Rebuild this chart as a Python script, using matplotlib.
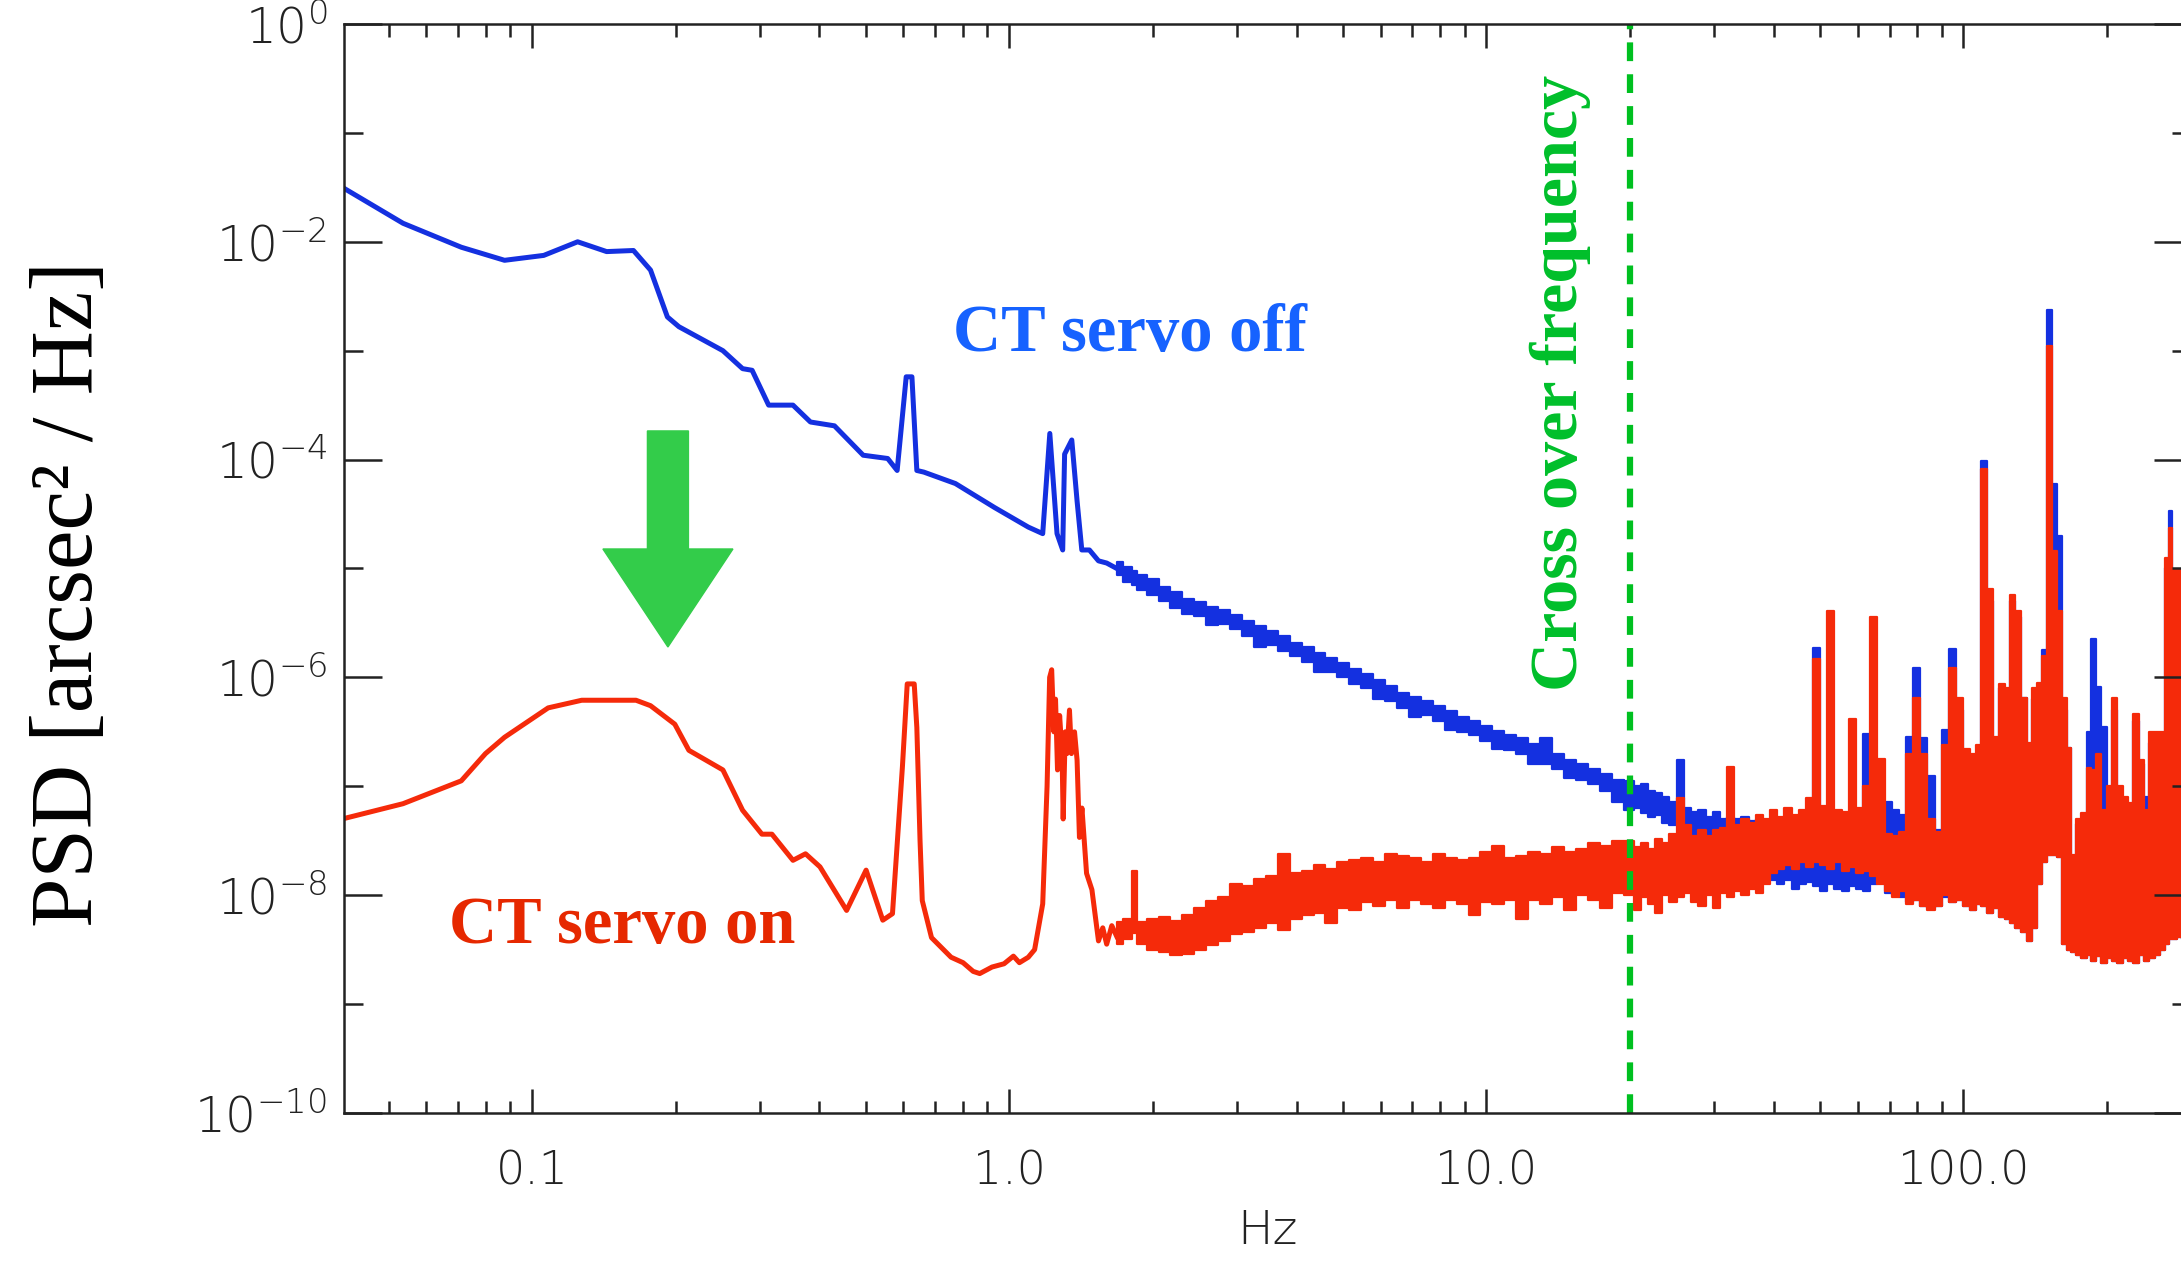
outfile = "out.png"
import numpy
import matplotlib
matplotlib.use("Agg")
import matplotlib.pyplot
from matplotlib.ticker import FixedLocator, FixedFormatter, NullFormatter, LogLocator
from matplotlib.patches import FancyArrow

matplotlib.pyplot.rcParams["font.family"] = ["DejaVu Sans"]
matplotlib.pyplot.rcParams["mathtext.default"] = "regular"

# all PSD values are log10(arcsec^2/Hz)

# CT servo off, low-frequency part (single clean trace)
off_line_f = [0.040, 0.0536, 0.0710, 0.0875, 0.1057, 0.1245, 0.1432, 0.163, 0.177, 0.192,
              0.203, 0.251, 0.276, 0.289, 0.313, 0.352, 0.383, 0.430, 0.494, 0.556,
              0.582, 0.608, 0.625, 0.640, 0.662, 0.771, 0.931, 1.096, 1.175, 1.216,
              1.259, 1.294, 1.306, 1.352, 1.387, 1.419, 1.472, 1.538, 1.60, 1.68]
off_line_p = [-1.50, -1.83, -2.05, -2.17, -2.125, -2.00, -2.09, -2.08, -2.26, -2.69,
              -2.78, -3.00, -3.165, -3.18, -3.50, -3.50, -3.655, -3.69, -3.96, -3.99,
              -4.10, -3.24, -3.24, -4.10, -4.115, -4.22, -4.44, -4.62, -4.68, -3.76,
              -4.68, -4.83, -3.95, -3.82, -4.38, -4.83, -4.83, -4.93, -4.95, -5.00]

# CT servo on, low-frequency part
on_line_f = [0.040, 0.0536, 0.0710, 0.0798, 0.0875, 0.108, 0.127, 0.150, 0.165, 0.177,
             0.199, 0.213, 0.251, 0.276, 0.303, 0.318, 0.352, 0.374, 0.401, 0.456,
             0.501, 0.543, 0.569, 0.597, 0.611, 0.632, 0.640, 0.650, 0.657, 0.687,
             0.755, 0.800, 0.840, 0.867, 0.920, 0.975, 1.02, 1.05, 1.096, 1.13,
             1.175, 1.20, 1.215, 1.227, 1.24, 1.25, 1.262, 1.275, 1.29, 1.297,
             1.31, 1.321, 1.337, 1.35, 1.37, 1.387, 1.403, 1.42, 1.452, 1.49,
             1.538, 1.57, 1.60, 1.64, 1.68]
on_line_p = [-7.30, -7.16, -6.95, -6.70, -6.55, -6.28, -6.21, -6.21, -6.21, -6.26,
             -6.43, -6.67, -6.85, -7.22, -7.44, -7.44, -7.68, -7.62, -7.74, -8.14,
             -7.77, -8.23, -8.17, -6.82, -6.06, -6.06, -6.46, -7.50, -8.05, -8.39,
             -8.57, -8.62, -8.70, -8.72, -8.66, -8.63, -8.56, -8.62, -8.57, -8.50,
             -8.08, -7.00, -6.00, -5.93, -6.50, -6.20, -6.85, -6.35, -6.70, -7.30,
             -6.50, -6.70, -6.30, -6.70, -6.50, -6.76, -7.47, -7.20, -7.80, -7.95,
             -8.42, -8.30, -8.45, -8.28, -8.38]

# dense part 1.7 - 19 Hz: min / max of each frequency bin
mid_f = [1.68, 1.78, 1.83, 1.88, 2.00, 2.11, 2.24, 2.37, 2.51, 2.66,
         2.82, 2.99, 3.16, 3.35, 3.55, 3.76, 3.98, 4.22, 4.47, 4.73,
         5.01, 5.31, 5.62, 5.96, 6.31, 6.68, 7.08, 7.50, 7.94, 8.41,
         8.91, 9.44, 10.0, 10.6, 11.2, 11.9, 12.6, 13.3, 14.1, 15.0,
         15.8, 16.8, 17.8, 18.8]
mid_on_lo = [-8.45, -8.40, -8.35, -8.45, -8.50, -8.52, -8.55, -8.54, -8.50, -8.46,
             -8.42, -8.36, -8.34, -8.30, -8.26, -8.32, -8.22, -8.18, -8.16, -8.26,
             -8.12, -8.14, -8.06, -8.10, -8.04, -8.12, -8.04, -8.08, -8.12, -8.04,
             -8.08, -8.18, -8.06, -8.08, -8.04, -8.22, -8.04, -8.08, -8.02, -8.14,
             -8.00, -8.04, -8.12, -7.98]
mid_on_hi = [-8.25, -8.22, -7.78, -8.25, -8.22, -8.20, -8.24, -8.18, -8.12, -8.05,
             -8.02, -7.90, -7.92, -7.85, -7.82, -7.62, -7.80, -7.78, -7.72, -7.76,
             -7.70, -7.68, -7.66, -7.70, -7.62, -7.64, -7.66, -7.70, -7.62, -7.66,
             -7.68, -7.66, -7.60, -7.55, -7.66, -7.64, -7.60, -7.62, -7.56, -7.60,
             -7.58, -7.52, -7.55, -7.50]
mid_off_lo = [-5.06, -5.12, -5.15, -5.20, -5.24, -5.30, -5.36, -5.42, -5.44, -5.52,
              -5.51, -5.56, -5.62, -5.72, -5.70, -5.76, -5.80, -5.86, -5.95, -5.95,
              -6.00, -6.06, -6.10, -6.20, -6.22, -6.28, -6.36, -6.35, -6.40, -6.48,
              -6.50, -6.53, -6.58, -6.66, -6.67, -6.70, -6.80, -6.80, -6.84, -6.92,
              -6.94, -6.98, -7.04, -7.14]
mid_off_hi = [-4.94, -4.99, -5.02, -5.06, -5.10, -5.17, -5.22, -5.28, -5.31, -5.35,
              -5.38, -5.43, -5.48, -5.53, -5.57, -5.62, -5.68, -5.72, -5.78, -5.82,
              -5.87, -5.92, -5.97, -6.02, -6.08, -6.14, -6.18, -6.22, -6.26, -6.31,
              -6.36, -6.40, -6.45, -6.49, -6.53, -6.56, -6.61, -6.56, -6.70, -6.76,
              -6.80, -6.84, -6.89, -6.94]

# dense part 20 - 300 Hz
high_f = [20.0, 20.7, 21.4, 22.2, 23.0, 23.8, 24.6, 25.5, 26.4, 27.3,
          28.3, 29.3, 30.3, 31.4, 32.5, 33.6, 34.8, 36.1, 37.3, 38.6,
          40.0, 41.4, 42.9, 44.4, 45.9, 47.5, 49.2, 51.0, 52.7, 54.6,
          56.5, 58.5, 60.6, 62.7, 64.9, 67.2, 69.5, 72.0, 74.5, 77.1,
          79.8, 82.6, 85.5, 88.5, 91.6, 94.8, 98.2, 101.6, 105.2, 107.5,
          110.6, 113.6, 116.6, 120.7, 124.0, 126.8, 130.0, 133.8, 137.5, 141.0,
          144.6, 148.0, 151.5, 155.4, 159.5, 163.0, 166.5, 170.3, 174.5, 179.0,
          183.5, 187.0, 192.0, 197.0, 202.0, 207.5, 213.0, 218.5, 224.2, 230.0,
          236.0, 242.0, 248.6, 255.0, 261.0, 267.0, 271.5, 277.0, 284.0, 291.0,
          298.0, 305.0]
high_on_lo = [-8.00, -8.14, -8.02, -8.08, -8.16, -8.00, -8.06, -8.02, -7.98, -8.06,
              -8.10, -8.00, -8.12, -7.98, -8.02, -7.96, -8.00, -7.94, -7.98, -7.90,
              -7.80, -7.76, -7.72, -7.76, -7.70, -7.74, -7.70, -7.72, -7.76, -7.70,
              -7.78, -7.74, -7.80, -7.78, -7.82, -7.90, -7.96, -8.02, -7.96, -8.08,
              -8.04, -8.10, -8.14, -8.10, -8.00, -8.06, -8.04, -8.10, -8.14, -8.08,
              -8.10, -8.16, -8.12, -8.20, -8.22, -8.26, -8.30, -8.34, -8.42, -8.30,
              -7.90, -7.70, -7.63, -7.63, -7.65, -8.45, -8.50, -8.52, -8.55, -8.58,
              -8.55, -8.60, -8.56, -8.62, -8.58, -8.60, -8.62, -8.58, -8.60, -8.62,
              -8.55, -8.60, -8.58, -8.55, -8.50, -8.45, -8.40, -8.40, -8.38, -8.40,
              -8.35, -8.35]
high_on_hi = [-7.50, -7.56, -7.52, -7.58, -7.48, -7.52, -7.44, -7.11, -7.36, -7.46,
              -7.40, -7.46, -7.40, -7.38, -6.82, -7.36, -7.30, -7.34, -7.26, -7.30,
              -7.22, -7.28, -7.20, -7.26, -7.22, -7.11, -5.83, -7.18, -5.39, -7.22,
              -7.24, -6.38, -7.20, -7.00, -5.45, -6.75, -7.44, -7.46, -7.42, -6.70,
              -6.19, -6.70, -7.30, -7.42, -6.62, -5.91, -6.19, -6.66, -6.70, -6.62,
              -4.09, -5.19, -6.55, -6.06, -6.10, -5.24, -5.39, -6.19, -6.60, -6.10,
              -6.05, -5.80, -2.96, -4.84, -5.39, -6.19, -6.65, -7.63, -7.30, -7.25,
              -6.83, -6.85, -6.70, -7.22, -7.00, -6.19, -7.00, -7.10, -7.15, -6.34,
              -6.76, -7.22, -6.50, -6.50, -6.50, -4.90, -4.63, -5.01, -5.01, -5.05,
              -5.10, -5.10]
high_off_lo = [-7.22, -7.20, -7.25, -7.28, -7.26, -7.34, -7.36, -7.32, -7.46, -7.50,
               -7.46, -7.52, -7.50, -7.54, -7.50, -7.54, -7.58, -7.60, -7.64, -7.74,
               -7.86, -7.90, -7.86, -7.94, -7.90, -7.88, -7.92, -7.96, -7.90, -7.94,
               -7.96, -7.92, -7.94, -7.96, -7.90, -7.86, -7.98, -8.00, -8.02, -8.06,
               -8.04, -8.10, -8.12, -8.10, -8.02, -8.06, -8.04, -8.10, -8.14, -8.08,
               -8.10, -8.16, -8.12, -8.20, -8.22, -8.26, -8.30, -8.34, -8.42, -8.30,
               -7.90, -7.70, -7.63, -7.63, -7.65, -8.45, -8.50, -8.52, -8.55, -8.58,
               -8.55, -8.60, -8.56, -8.62, -8.58, -8.60, -8.62, -8.58, -8.60, -8.62,
               -8.55, -8.60, -8.58, -8.55, -8.50, -8.45, -8.40, -8.40, -8.38, -8.40,
               -8.35, -8.35]
high_off_hi = [-6.95, -7.00, -6.98, -7.04, -7.06, -7.10, -7.14, -6.76, -7.20, -7.24,
               -7.22, -7.28, -7.24, -7.30, -7.28, -7.30, -7.28, -7.32, -7.30, -7.34,
               -7.38, -7.42, -7.44, -7.40, -7.46, -7.40, -5.73, -7.40, -7.38, -7.44,
               -7.40, -7.30, -7.34, -6.52, -7.36, -7.30, -7.14, -7.22, -7.26, -6.55,
               -5.91, -6.56, -6.91, -7.40, -6.48, -5.74, -6.30, -6.72, -6.76, -6.70,
               -4.01, -5.30, -6.60, -6.10, -6.15, -5.30, -5.45, -6.19, -6.70, -6.20,
               -6.10, -5.75, -2.63, -4.22, -4.70, -6.30, -6.65, -7.70, -7.35, -7.30,
               -6.50, -5.65, -6.09, -6.46, -7.10, -6.30, -7.24, -7.24, -7.30, -6.40,
               -6.80, -7.10, -6.60, -6.55, -6.60, -5.00, -4.47, -5.30, -5.40, -5.87,
               -5.87, -5.90]

crossover_hz = 20.0
xlim = (0.0403, 300.0)
ylim = (1e-10, 1e0)
ytick_exp = [-10, -8, -6, -4, -2, 0]
ytick_minor_exp = [-9, -7, -5, -3, -1]
xtick_vals = [0.1, 1.0, 10.0, 100.0]
xtick_labels = ["0.1", "1.0", "10.0", "100.0"]

band_f = numpy.array(mid_f + high_f)
on_lo = 10.0**numpy.array(mid_on_lo + high_on_lo)
on_hi = 10.0**numpy.array(mid_on_hi + high_on_hi)
off_lo = 10.0**numpy.array(mid_off_lo + high_off_lo)
off_hi = 10.0**numpy.array(mid_off_hi + high_off_hi)

blue = "#1430e0"
red = "#f52a0a"

fig = matplotlib.pyplot.figure(figsize=(21.81, 12.63), dpi=100)
ax = fig.add_axes([0.1577, 0.1188, 0.8469, 0.8622])
ax.set_xscale("log")
ax.set_yscale("log")

# servo off first so the servo on spectrum sits on top
ax.plot(off_line_f, 10.0**numpy.array(off_line_p), color=blue, lw=3.6)
ax.fill_between(band_f, off_lo, off_hi, step="mid", facecolor=blue,
                edgecolor=blue, linewidth=1.6)
ax.plot(on_line_f, 10.0**numpy.array(on_line_p), color=red, lw=3.6)
ax.fill_between(band_f, on_lo, on_hi, step="mid", facecolor=red,
                edgecolor=red, linewidth=1.6)

ax.axvline(crossover_hz, color="#00c020", lw=4.5, dashes=(3.0, 2.1))

ax.set_xlim(*xlim)
ax.set_ylim(*ylim)

ax.xaxis.set_major_locator(FixedLocator(xtick_vals))
ax.xaxis.set_major_formatter(FixedFormatter(xtick_labels))
ax.xaxis.set_minor_locator(LogLocator(base=10.0, subs=numpy.arange(2, 10), numticks=20))
ax.xaxis.set_minor_formatter(NullFormatter())
ax.yaxis.set_major_locator(FixedLocator([10.0**e for e in ytick_exp]))
ax.yaxis.set_major_formatter(FixedFormatter([r"$10^{%d}$" % e for e in ytick_exp]))
ax.yaxis.set_minor_locator(FixedLocator([10.0**e for e in ytick_minor_exp]))
ax.yaxis.set_minor_formatter(NullFormatter())

ax.tick_params(which="both", direction="in", top=True, right=True,
               width=1.8, color="#222222", labelcolor="#222222")
ax.tick_params(axis="y", which="major", length=27, pad=12, labelsize=35)
ax.tick_params(axis="y", which="minor", length=14)
ax.tick_params(axis="x", which="major", length=17, pad=26, labelsize=33)
ax.tick_params(axis="x", which="minor", length=9)
for lab in ax.get_xticklabels() + ax.get_yticklabels():
    lab.set_fontweight("light")
for sp in ax.spines.values():
    sp.set_linewidth(1.8)
    sp.set_color("#222222")

ax.set_xlabel("Hz", fontsize=34, color="#222222", fontweight="light")
ax.xaxis.set_label_coords(0.5, -0.088)
ax.set_ylabel("PSD [arcsec\u00b2 / Hz]", fontsize=64, family="Liberation Serif")
ax.yaxis.set_label_coords(-0.126, 0.477)

serif = "Liberation Serif"
ax.text(1.79, 1.0e-3, "CT servo off", color="#1662ff", fontsize=48,
        family=serif, fontweight="bold", ha="center", va="baseline")
ax.text(0.154, 3.6e-9, "CT servo on", color="#e62800", fontsize=48,
        family=serif, fontweight="bold", ha="center", va="baseline")
ax.text(14.3, 5.06e-4, "Cross over frequency", color="#00bf2a", fontsize=49,
        family=serif, fontweight="bold", rotation=90, ha="center", va="center")

# big arrow pointing from the servo-off level down to the servo-on level
ax.add_patch(FancyArrow(0.1754, 0.6263, 0.0, -0.1984, width=0.0222,
                        head_width=0.0704, head_length=0.0900,
                        length_includes_head=True, color="#33cc4a",
                        transform=ax.transAxes, zorder=5))

fig.savefig(outfile, dpi=100)
print(outfile, end="")
